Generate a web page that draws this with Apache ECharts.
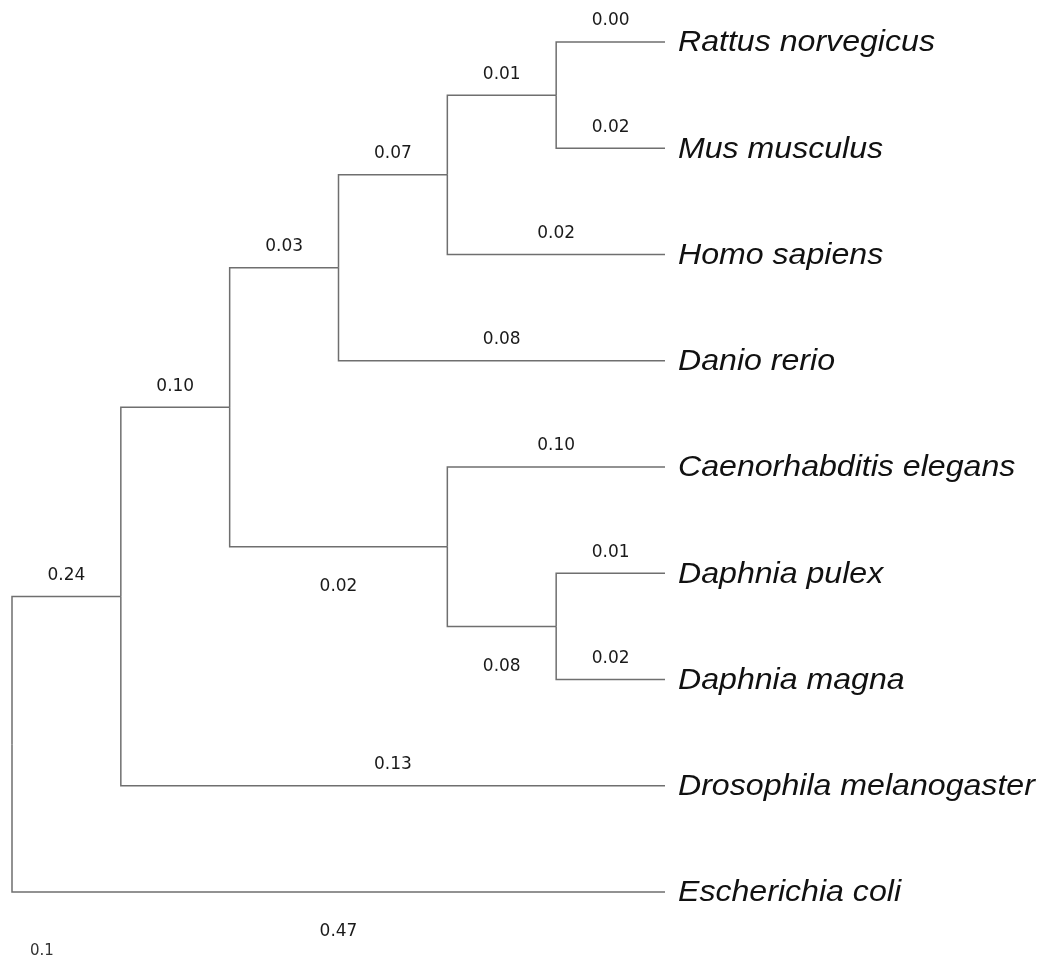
<!DOCTYPE html>
<html>
<head>
<meta charset="utf-8">
<script src="https://cdn.jsdelivr.net/npm/echarts@6/dist/echarts.min.js"></script>
<style>
html,body{margin:0;padding:0;background:#fff;}
#chart{width:1041px;height:962px;}
</style>
</head>
<body>
<div id="chart"></div>
<script>
// ---- data ----
const leafNames = ['Rattus norvegicus','Mus musculus','Homo sapiens','Danio rerio','Caenorhabditis elegans','Daphnia pulex','Daphnia magna','Drosophila melanogaster','Escherichia coli'];
const internalNodes = ['root','A','B','C','D','E','F','G'];
const edgeParent = ['root','root','A','A','B','B','C','C','D','D','E','E','F','F','G','G'];
const edgeChild = ['A','Escherichia coli','B','Drosophila melanogaster','C','F','D','Danio rerio','E','Homo sapiens','Rattus norvegicus','Mus musculus','Caenorhabditis elegans','G','Daphnia pulex','Daphnia magna'];
const branchLengths = [0.24,0.47,0.10,0.13,0.03,0.02,0.07,0.08,0.01,0.02,0.00,0.02,0.10,0.08,0.01,0.02];
const scaleLabel = '0.1';

// ---- layout (cladogram: leaves aligned, y = leaf order) ----
const labelBelow = ['Escherichia coli','F','G'];
const kids = {};
edgeParent.forEach((p, i) => { (kids[p] = kids[p] || []).push(edgeChild[i]); });
const heightOf = {}, yOf = {};
function h(n){
  if (heightOf[n] !== undefined) return heightOf[n];
  if (!kids[n]) { heightOf[n] = 0; return 0; }
  heightOf[n] = 1 + Math.max(...kids[n].map(h));
  return heightOf[n];
}
function y(n){
  if (yOf[n] !== undefined) return yOf[n];
  if (!kids[n]) { yOf[n] = leafNames.indexOf(n); return yOf[n]; }
  const ys = kids[n].map(y);
  yOf[n] = (Math.min(...ys) + Math.max(...ys)) / 2;
  return yOf[n];
}
const maxH = h('root');
const xOf = n => maxH - h(n);
const edgeData = edgeParent.map((p, i) => {
  const c = edgeChild[i];
  return [xOf(p), y(p), xOf(c), y(c), i];
});

const chart = echarts.init(document.getElementById('chart'));
chart.setOption({
  animation: false,
  backgroundColor: '#ffffff',
  grid: { left: 12, right: 376, top: 42, bottom: 70 },
  xAxis: { type: 'value', min: 0, max: maxH, show: false },
  yAxis: { type: 'value', min: 0, max: leafNames.length - 1, inverse: true, show: false },
  graphic: [{
    type: 'text', left: 30, top: 944,
    style: { text: scaleLabel, fill: '#333', fontSize: 15, fontFamily: '"DejaVu Sans", sans-serif' }
  }],
  series: [{
    type: 'custom',
    coordinateSystem: 'cartesian2d',
    data: edgeData,
    encode: { x: [0, 2], y: [1, 3] },
    renderItem: function (params, api) {
      const p = api.coord([api.value(0), api.value(1)]);
      const c = api.coord([api.value(2), api.value(3)]);
      const i = api.value(4);
      const child = edgeChild[i];
      const children = [{
        type: 'polyline',
        shape: { points: [[p[0], p[1]], [p[0], c[1]], [c[0], c[1]]] },
        style: { stroke: '#6f6f6f', lineWidth: 1.5, fill: null }
      }, {
        type: 'text',
        x: (p[0] + c[0]) / 2,
        y: labelBelow.indexOf(child) >= 0 ? c[1] + 40 : c[1] - 21,
        style: {
          text: branchLengths[i].toFixed(2),
          fill: '#1a1a1a', fontSize: 17, fontFamily: '"DejaVu Sans", sans-serif',
          align: 'center', verticalAlign: 'middle'
        }
      }];
      if (leafNames.indexOf(child) >= 0) {
        children.push({
          type: 'text',
          x: c[0] + 13, y: c[1] + 1,
          scaleX: 1.07,
          style: {
            text: child, fill: '#111', fontSize: 30, fontStyle: 'italic',
            fontFamily: '"Liberation Sans", Arial, sans-serif',
            align: 'left', verticalAlign: 'middle'
          }
        });
      }
      return { type: 'group', children: children };
    }
  }]
});
</script>
</body>
</html>
